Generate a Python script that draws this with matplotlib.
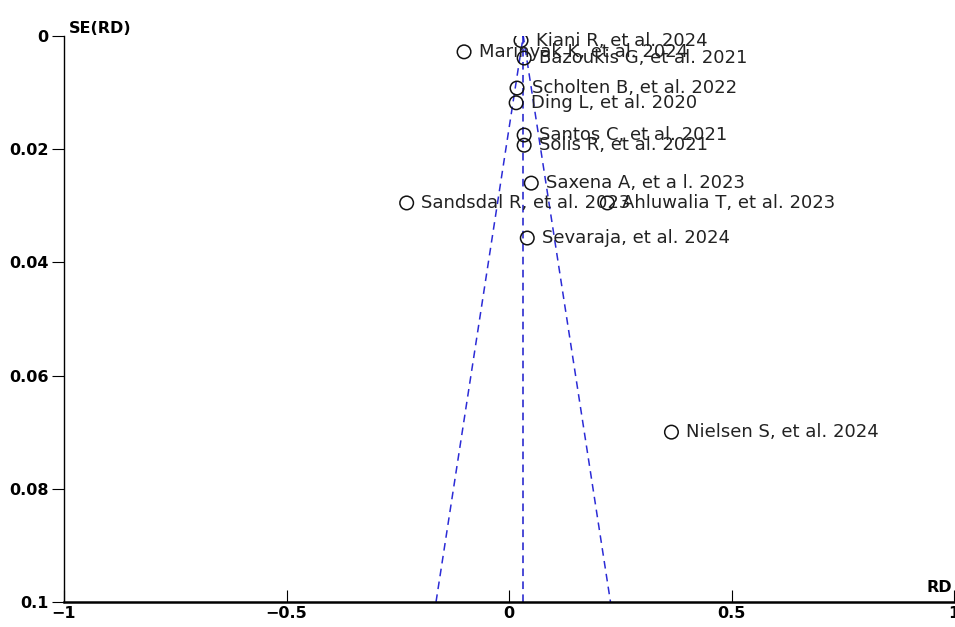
import numpy as np
import matplotlib.pyplot as plt

studies = ['Kiani R, et al. 2024', 'Marinyak K, et al. 2024', 'Bazoukis G, et al. 2021',
           'Scholten B, et al. 2022', 'Ding L, et al. 2020', 'Santos C, et al. 2021',
           'Solis R, et al. 2021', 'Saxena A, et a l. 2023', 'Sandsdal R, et al. 2023',
           'Ahluwalia T, et al. 2023', 'Sevaraja, et al. 2024', 'Nielsen S, et al. 2024']
rd = [0.027, -0.101, 0.034, 0.018, 0.016, 0.034, 0.034, 0.050, -0.230, 0.221, 0.041, 0.365]
se = [0.0008, 0.0028, 0.0039, 0.0092, 0.0118, 0.0175, 0.0193, 0.0260, 0.0295, 0.0295, 0.0357, 0.0700]
pooled = 0.032

fig = plt.figure(figsize=(9.55, 6.27), dpi=100)
ax = fig.add_axes([0.067, 0.040, 0.932, 0.9026])

# funnel
se_max = 0.1
ax.plot([pooled - 1.96 * se_max, pooled, pooled + 1.96 * se_max], [se_max, 0, se_max],
        color='#2b2bd6', ls=(0, (5, 3.5)), lw=1.1, zorder=1)
ax.plot([pooled, pooled], [0, se_max], color='#1a1acc', ls=(0, (5, 3.5)), lw=1.1, zorder=1)

ax.scatter(rd, se, s=95, facecolor='none', edgecolor='#111111', lw=1.1, zorder=3)
for x, y, name in zip(rd, se, studies):
    ax.annotate(name, (x, y), xytext=(10.5, 0), textcoords='offset points',
                va='center', ha='left', fontsize=13, color='#222222', zorder=4)

ax.set_xlim(-1, 1)
ax.set_ylim(0.1, 0)
ax.set_xticks([-1, -0.5, 0, 0.5, 1])
ax.set_xticklabels(['\u22121', '\u22120.5', '0', '0.5', '1'])
ax.set_yticks([0, 0.02, 0.04, 0.06, 0.08, 0.1])
ax.set_yticklabels(['0', '0.02', '0.04', '0.06', '0.08', '0.1'])
for lab in ax.get_xticklabels() + ax.get_yticklabels():
    lab.set_fontweight('bold')
    lab.set_fontsize(11.5)
ax.tick_params(axis='x', direction='in', length=9, pad=3)
ax.tick_params(axis='y', direction='out', length=9, pad=2)
ax.spines['top'].set_visible(False)
ax.spines['right'].set_visible(False)
ax.spines['bottom'].set_linewidth(1.8)
ax.spines['left'].set_linewidth(1.0)

ax.text(0.005, 1.0, 'SE(RD)', transform=ax.transAxes, ha='left', va='bottom',
        fontsize=11.5, fontweight='bold')
ax.text(0.998, 0.012, 'RD', transform=ax.transAxes, ha='right', va='bottom',
        fontsize=11.5, fontweight='bold')

fig.savefig('out.png', dpi=100)
